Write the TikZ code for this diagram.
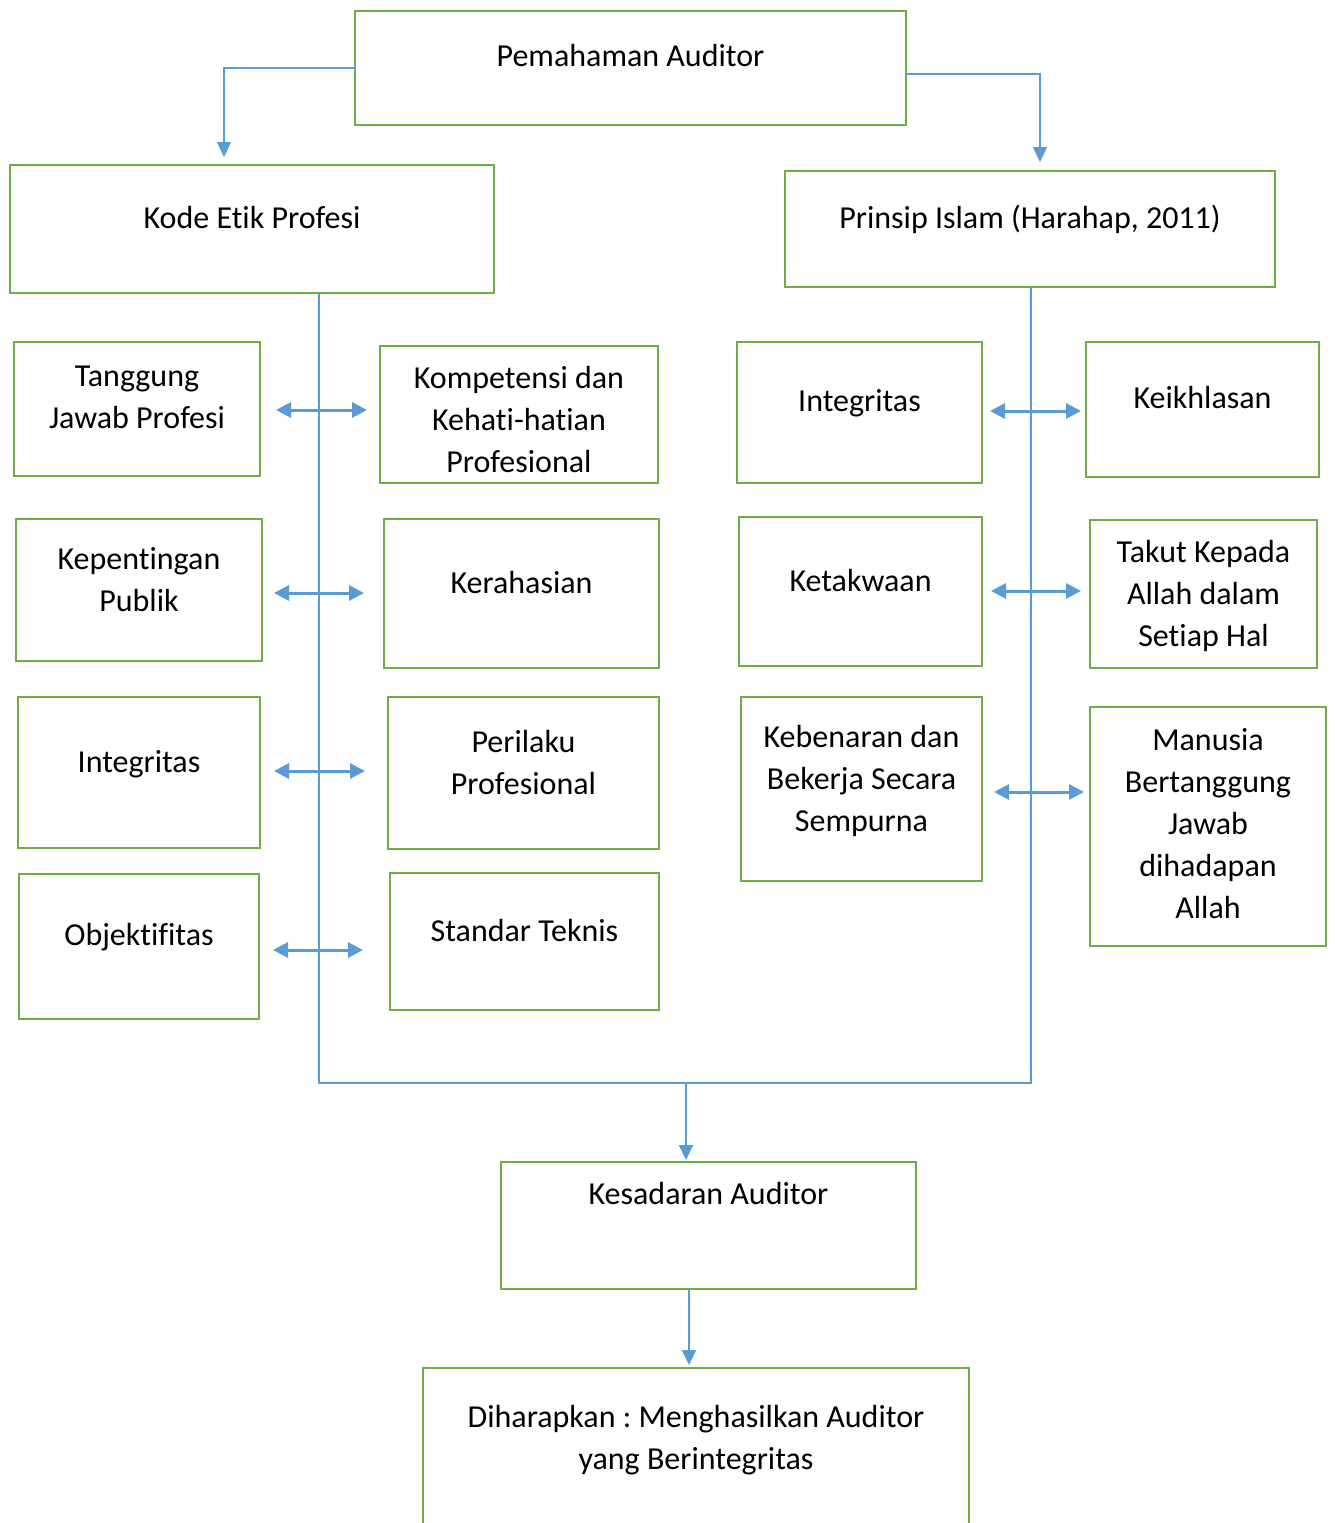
\documentclass[tikz,border=0pt]{standalone}
\usepackage{fontspec}
\setmainfont{Carlito}[Ligatures={NoCommon}]
\usetikzlibrary{arrows.meta,calc}
\definecolor{grn}{HTML}{70AD47}
\definecolor{blu}{HTML}{5B9BD5}
\newcommand\mybox[5]{\node[box,anchor=north west,minimum width={#4-#2},minimum height={#5-#3}] (#1) at (#2,#3) {};}
\frenchspacing
\begin{document}
\begin{tikzpicture}[x=1pt,y=-1pt,
 box/.style={draw=grn,line width=2.5pt,inner sep=0pt,outer sep=0pt},
 txt/.style={anchor=north,align=center,inner sep=0pt,font=\fontsize{32}{42}\selectfont,execute at begin node=\strut},
 thinline/.style={draw=blu,line width=1.3pt},
 arr/.style={draw=blu,line width=2pt,-{Triangle[length=15pt,width=14pt]}},
 dbl/.style={draw=blu,line width=3pt,{Triangle[length=15pt,width=15pt]}-{Triangle[length=15pt,width=15pt]}}]
\fill[white] (0,0) rectangle (1334,1523);
\clip (0,0) rectangle (1334,1523);
% boxes
\mybox{pa}{355}{11}{906}{125}
\mybox{ke}{10}{165}{494}{293}
\mybox{pi}{785}{171}{1275}{287}
\mybox{tjp}{14}{342}{260}{476}
\mybox{kom}{380}{346}{658}{483}
\mybox{kp}{16}{519}{262}{661}
\mybox{ker}{384}{519}{659}{668}
\mybox{intl}{18}{697}{260}{848}
\mybox{pp}{388}{697}{659}{849}
\mybox{obj}{19}{874}{259}{1019}
\mybox{st}{390}{873}{659}{1010}
\mybox{intr}{737}{342}{982}{483}
\mybox{kei}{1086}{342}{1319}{477}
\mybox{ket}{739}{517}{982}{666}
\mybox{tk}{1090}{520}{1317}{668}
\mybox{keb}{741}{697}{982}{881}
\mybox{man}{1090}{707}{1326}{946}
\mybox{kes}{501}{1162}{916}{1289}
\mybox{dh}{423}{1368}{969}{1600}
% texts
\node[txt] (tpa) at (630.5,36.6) {Pemahaman Auditor};
\node[txt] (tke) at (252,198.6) {Kode Etik Profesi};
\node[txt] (tpi) at (1030,198.6) {Prinsip Islam (Harahap, 2011)};
\node[txt] (ttjp) at (137,366) {Tanggung\\Jawab Profesi};
\node[txt] (tkom) at (519,366) {Kompetensi dan\\Kehati-hatian\\Profesional};
\node[txt] (tkp) at (139,547) {Kepentingan\\Publik};
\node[txt] (tker) at (521.5,563.6) {Kerahasian};
\node[txt] (tintl) at (139,742.6) {Integritas};
\node[txt] (tpp) at (523.5,730) {Perilaku\\Profesional};
\node[txt] (tobj) at (139,915.6) {Objektifitas};
\node[txt] (tst) at (524.5,911.6) {Standar Teknis};
\node[txt] (tintr) at (859.5,381.6) {Integritas};
\node[txt] (tkei) at (1202.5,378.6) {Keikhlasan};
\node[txt] (tket) at (860.5,561.6) {Ketakwaan};
\node[txt] (ttk) at (1203.5,540) {Takut Kepada\\Allah dalam\\Setiap Hal};
\node[txt] (tkeb) at (861.5,725) {Kebenaran dan\\Bekerja Secara\\Sempurna};
\node[txt] (tman) at (1208,728.6) {Manusia\\Bertanggung\\Jawab\\dihadapan\\Allah};
\node[txt] (tkes) at (708.5,1174.6) {Kesadaran Auditor};
\node[txt] (tdh) at (696,1404.6) {Diharapkan : Menghasilkan Auditor\\yang Berintegritas};
% top connectors
\coordinate (kein) at (224,157);
\coordinate (piin) at (1040,162);
\draw[arr,line width=1.5pt] (pa.west) -| (kein);
\draw[arr,line width=1.5pt] ($(pa.east)+(0,6)$) -| (piin);
% bracket
\coordinate (jL) at (319,1083);
\coordinate (jR) at (1031,1083);
\coordinate (jM) at (686,1083);
\draw[thinline] (ke.south -| jL) -- (jL) -- (jR) -- (pi.south -| jR);
\draw[arr] (jM) -- ($(kes.north -| jM)+(0,-2)$);
\draw[arr] ($(kes.south)+(-19.5,0)$) -- ($(dh.north)+(-7,-3)$);
% double arrows
\draw[dbl] ($(tjp.east)+(16,1)$) -- ($(tjp.east -| kom.west)+(-13,1)$);
\draw[dbl] ($(kp.east)+(12,3)$) -- ($(kp.east -| ker.west)+(-20,3)$);
\draw[dbl] ($(intl.east)+(14,-1.5)$) -- ($(intl.east -| pp.west)+(-23,-1.5)$);
\draw[dbl] ($(obj.east)+(14,3.5)$) -- ($(obj.east -| st.west)+(-27,3.5)$);
\draw[dbl] ($(intr.east)+(8,-1.5)$) -- ($(intr.east -| kei.west)+(-5,-1.5)$);
\draw[dbl] ($(ket.east)+(9,-0.5)$) -- ($(ket.east -| tk.west)+(-9,-0.5)$);
\draw[dbl] ($(keb.east)+(12,3)$) -- ($(keb.east -| man.west)+(-6,3)$);
\end{tikzpicture}
\end{document}
